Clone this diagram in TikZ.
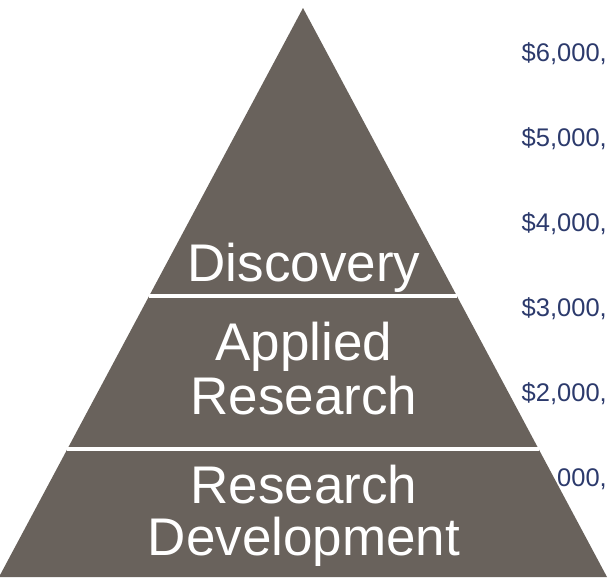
\documentclass[tikz,border=0pt]{standalone}
\usepackage{fontspec}
\setmainfont{Liberation Sans}
\usetikzlibrary{calc}
\definecolor{pyr}{RGB}{105,98,92}
\definecolor{navy}{RGB}{44,58,108}
\tikzset{
  lvl/.style={text=white, font=\fontsize{53}{53}\selectfont, anchor=base, inner sep=0pt},
  money/.style={text=navy, font=\fontsize{25.5}{25.5}\selectfont, anchor=base east, inner sep=0pt},
  sep/.style={draw=white, line width=3.5pt}
}
\begin{document}
\begin{tikzpicture}[x=1pt,y=-1pt]
\useasboundingbox (0,0) rectangle (609,579);
% money labels
\node[money] (m6) at (607,61) {\$6,000,};
\node[money] (m5) at (607,146) {\$5,000,};
\node[money] (m4) at (607,231) {\$4,000,};
\node[money] (m3) at (607,316) {\$3,000,};
\node[money] (m2) at (607,401) {\$2,000,};
\node[money] (m1) at (607,486) {000,};
% pyramid
\coordinate (apex) at (303,8);
\coordinate (bl) at (-1,577);
\coordinate (br) at (607,577);
\fill[pyr] (apex) -- (br) -- (bl) -- cycle;
\coordinate (s1l) at ($(apex)!0.506!(bl)$);
\coordinate (s1r) at ($(apex)!0.506!(br)$);
\coordinate (s2l) at ($(apex)!0.775!(bl)$);
\coordinate (s2r) at ($(apex)!0.775!(br)$);
\draw[sep] (s1l) -- (s1r);
\draw[sep] (s2l) -- (s2r);
% labels
\node[lvl] (disc) at (304,281) {Discovery};
\node[lvl] (appl) at (304,360) {Applied};
\node[lvl] (res1) at (304,414) {Research};
\node[lvl] (res2) at (304,503) {Research};
\node[lvl] (dev) at (304,555) {Development};
\end{tikzpicture}
\end{document}
